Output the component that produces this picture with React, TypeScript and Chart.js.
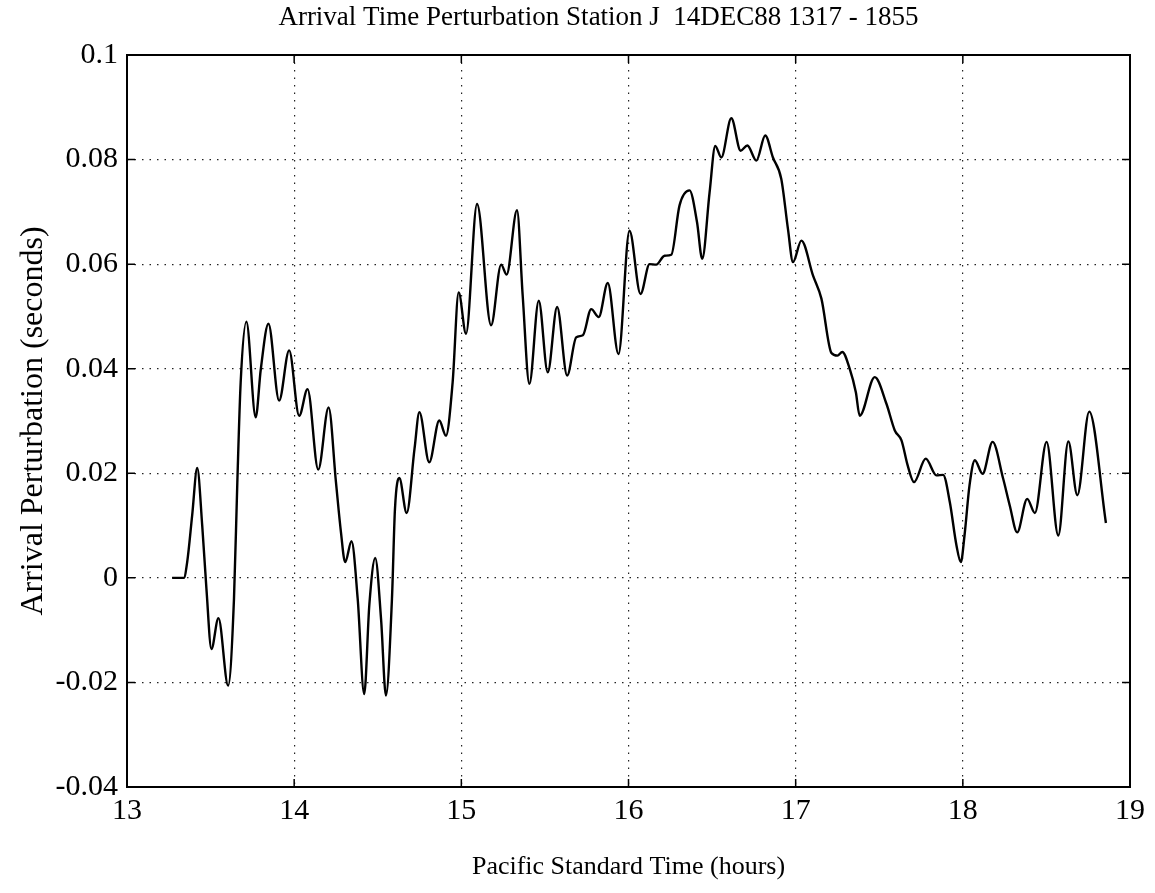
import React, { useEffect, useRef } from "react";
import { Chart, registerables } from "chart.js";

Chart.register(...registerables);

const TITLE = "Arrival Time Perturbation Station J  14DEC88 1317 - 1855";
const X_TITLE = "Pacific Standard Time (hours)";
const Y_TITLE = "Arrival Perturbation (seconds)";

const X_TICKS = [13, 14, 15, 16, 17, 18, 19];
const Y_TICKS = [-0.04, -0.02, 0, 0.02, 0.04, 0.06, 0.08, 0.1];

const hours = [
  13.27, 13.34, 13.36, 13.39, 13.42, 13.45, 13.475, 13.505, 13.547, 13.605,
  13.64, 13.66, 13.68, 13.714, 13.77, 13.8, 13.846, 13.91, 13.97, 14.03,
  14.08, 14.144, 14.206, 14.25, 14.28, 14.305, 14.343, 14.38, 14.419, 14.45,
  14.485, 14.52, 14.549, 14.585, 14.603, 14.629, 14.673, 14.72, 14.749, 14.808,
  14.868, 14.908, 14.948, 14.984, 15.028, 15.094, 15.178, 15.238, 15.271, 15.333,
  15.367, 15.407, 15.463, 15.517, 15.573, 15.633, 15.687, 15.727, 15.777, 15.822,
  15.876, 15.94, 16.006, 16.072, 16.126, 16.166, 16.216, 16.256, 16.305, 16.365,
  16.41, 16.441, 16.485, 16.519, 16.555, 16.615, 16.671, 16.711, 16.765, 16.818,
  16.864, 16.914, 16.954, 16.984, 17.034, 17.104, 17.154, 17.214, 17.25, 17.279,
  17.323, 17.36, 17.383, 17.473, 17.543, 17.593, 17.633, 17.67, 17.708, 17.778,
  17.842, 17.882, 17.922, 17.962, 17.988, 18.01, 18.04, 18.072, 18.118, 18.178,
  18.241, 18.281, 18.325, 18.385, 18.431, 18.501, 18.571, 18.631, 18.685, 18.756,
  18.856,
];

const perturbation = [
  0, 0, 0.003, 0.012, 0.021, 0.01, -0.002, -0.0136, -0.0077, -0.0206,
  -0.004, 0.0183, 0.0374, 0.049, 0.0307, 0.0398, 0.0486, 0.0339, 0.0435, 0.031,
  0.0361, 0.0207, 0.0326, 0.0183, 0.0087, 0.003, 0.007, -0.004, -0.0222, -0.005,
  0.0038, -0.008, -0.0225, -0.004, 0.0132, 0.0191, 0.0124, 0.0247, 0.0317, 0.0221,
  0.0301, 0.0272, 0.0374, 0.0546, 0.0467, 0.0715, 0.0483, 0.0599, 0.058, 0.0703,
  0.054, 0.0371, 0.053, 0.0393, 0.0518, 0.0387, 0.046, 0.0464, 0.0514, 0.0499,
  0.0564, 0.0428, 0.0664, 0.0543, 0.06, 0.0599, 0.0616, 0.0618, 0.0712, 0.0741,
  0.068, 0.061, 0.0737, 0.0826, 0.0804, 0.0879, 0.0817, 0.0827, 0.0798, 0.0846,
  0.0804, 0.0763, 0.0667, 0.0604, 0.0645, 0.0578, 0.0534, 0.043, 0.0425, 0.0432,
  0.04, 0.0355, 0.031, 0.0384, 0.0333, 0.0282, 0.0263, 0.0215, 0.0183, 0.0228,
  0.0196, 0.0197, 0.0145, 0.0062, 0.003, 0.0081, 0.0177, 0.0225, 0.0199, 0.026,
  0.019, 0.0138, 0.0087, 0.0151, 0.0124, 0.026, 0.0081, 0.0261, 0.0158, 0.0318,
  0.0105,
];

const FONT = "'Liberation Serif', 'Times New Roman', serif";

const framePlugin = {
  id: "matlabFrame",
  afterDraw(chart: any) {
    const { ctx, chartArea } = chart;
    const { left, right, top, bottom } = chartArea;
    const xs = chart.scales.x;
    const ys = chart.scales.y;
    ctx.save();
    ctx.strokeStyle = "#000";
    ctx.lineWidth = 1.5;
    ctx.setLineDash([]);
    const tl = 8;
    ctx.beginPath();
    X_TICKS.forEach((v) => {
      const px = xs.getPixelForValue(v);
      ctx.moveTo(px, bottom);
      ctx.lineTo(px, bottom - tl);
      ctx.moveTo(px, top);
      ctx.lineTo(px, top + tl);
    });
    Y_TICKS.forEach((v) => {
      const py = ys.getPixelForValue(v);
      ctx.moveTo(left, py);
      ctx.lineTo(left + tl, py);
      ctx.moveTo(right, py);
      ctx.lineTo(right - tl, py);
    });
    ctx.stroke();
    ctx.lineWidth = 2;
    ctx.strokeRect(left, top, right - left, bottom - top);
    ctx.fillStyle = "#000";
    ctx.font = `27px ${FONT}`;
    ctx.textAlign = "center";
    ctx.textBaseline = "alphabetic";
    ctx.fillText(TITLE, (left + right) / 2 - 30, 25);
    ctx.restore();
  },
};

export default function App() {
  const canvasRef = useRef<HTMLCanvasElement | null>(null);

  useEffect(() => {
    const canvas = canvasRef.current;
    if (!canvas) return;
    const points = hours.map((h, i) => ({ x: h, y: perturbation[i] }));
    const chart = new Chart(canvas, {
      type: "line",
      data: {
        datasets: [
          {
            data: points,
            borderColor: "#000",
            borderWidth: 2.4,
            pointRadius: 0,
            fill: false,
            cubicInterpolationMode: "monotone",
          },
        ],
      },
      options: {
        animation: false,
        responsive: false,
        maintainAspectRatio: false,
        layout: { padding: { left: 0, right: 25, top: 55, bottom: 0 } },
        plugins: {
          legend: { display: false },
          title: { display: false },
          tooltip: { enabled: false },
        },
        scales: {
          x: {
            type: "linear",
            min: 13,
            max: 19,
            afterFit: (s: any) => {
              s.height = 106;
            },
            afterBuildTicks: (s: any) => {
              s.ticks = X_TICKS.map((v) => ({ value: v }));
            },
            ticks: {
              color: "#000",
              font: { family: FONT, size: 30 },
              padding: 6,
              maxRotation: 0,
              callback: (v: any) => String(v),
            },
            grid: {
              color: "#222",
              lineWidth: 1.2,
              drawTicks: false,
            },
            border: { display: false, dash: [1.5, 6] },
            title: {
              display: true,
              text: X_TITLE,
              color: "#000",
              font: { family: FONT, size: 26 },
              padding: { top: 0, bottom: 10 },
            },
          },
          y: {
            type: "linear",
            min: -0.04,
            max: 0.1,
            afterFit: (s: any) => {
              s.width = 127;
            },
            afterBuildTicks: (s: any) => {
              s.ticks = Y_TICKS.map((v) => ({ value: v }));
            },
            ticks: {
              color: "#000",
              font: { family: FONT, size: 30 },
              padding: 9,
              callback: (v: any) => String(Math.round(Number(v) * 100) / 100),
            },
            grid: {
              color: "#222",
              lineWidth: 1.2,
              drawTicks: false,
            },
            border: { display: false, dash: [1.5, 6] },
            title: {
              display: true,
              text: Y_TITLE,
              color: "#000",
              font: { family: FONT, size: 32 },
              padding: { top: 14, bottom: 0 },
            },
          },
        },
      },
      plugins: [framePlugin],
    });
    return () => chart.destroy();
  }, []);

  return (
    <div style={{ position: "absolute", left: 0, top: 0, width: 1155, height: 893, background: "#fff" }}>
      <canvas ref={canvasRef} width={1155} height={893} />
    </div>
  );
}
